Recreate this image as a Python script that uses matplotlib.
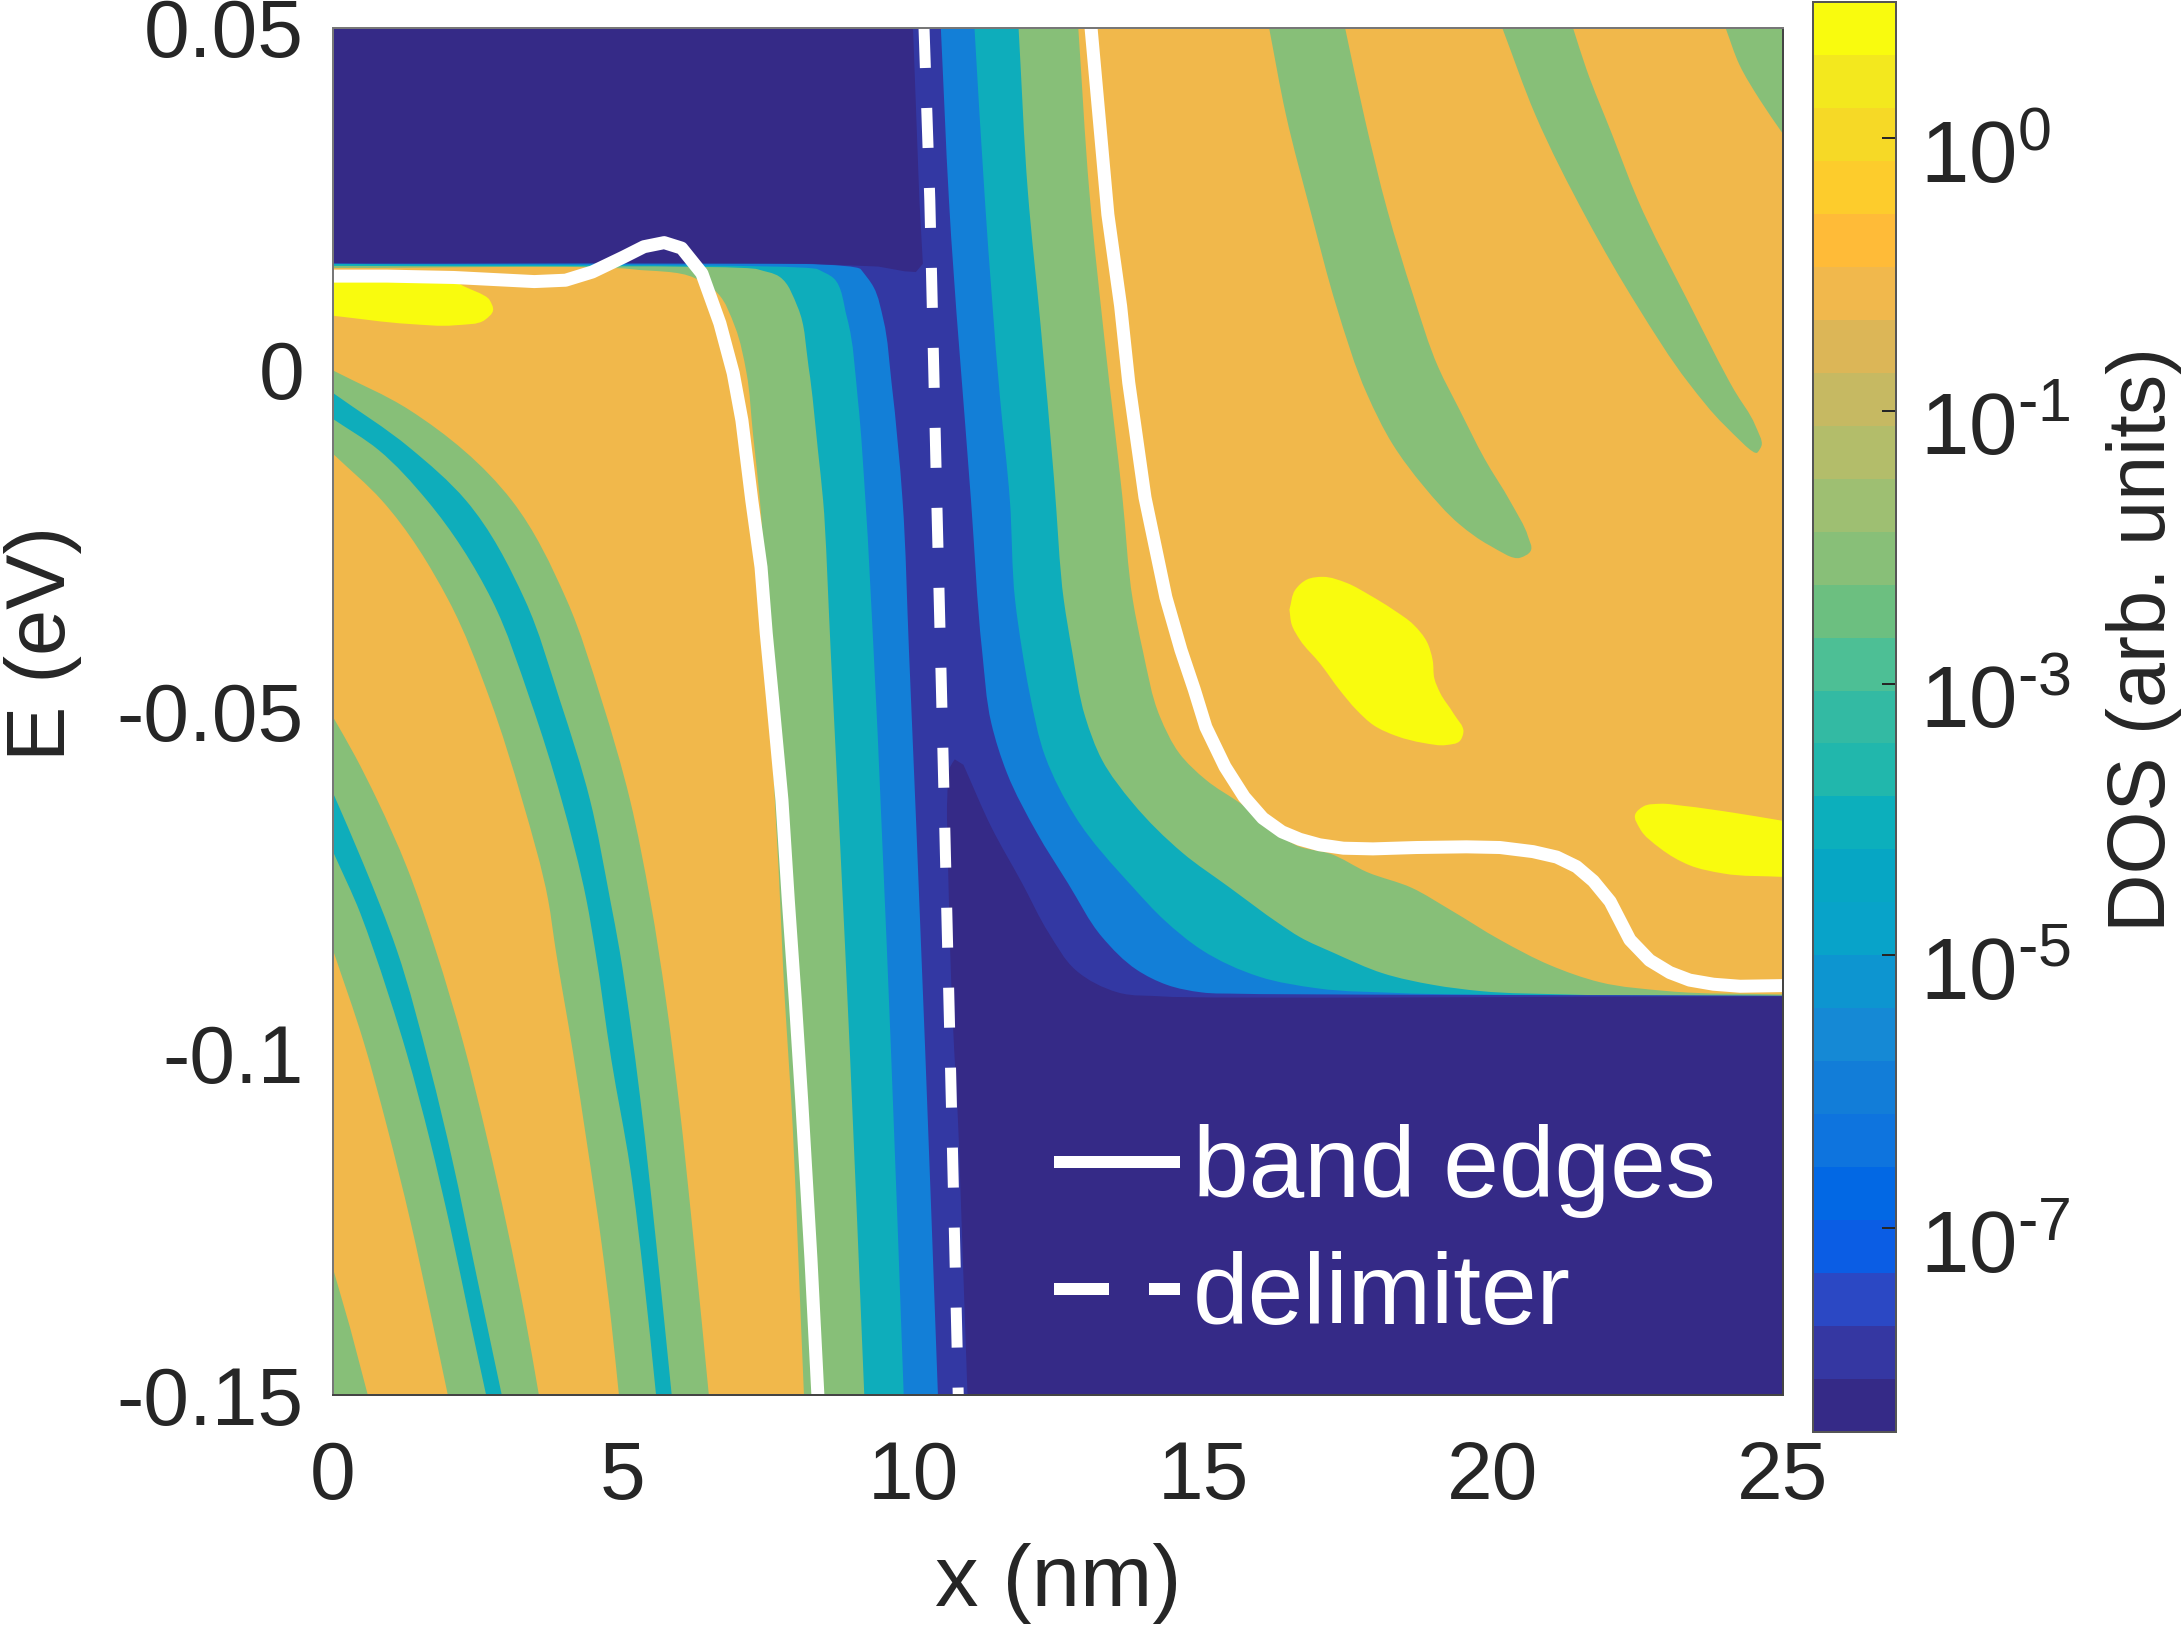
import numpy as np
import matplotlib
matplotlib.use("Agg")
import matplotlib.pyplot as plt
from matplotlib.colors import ListedColormap, BoundaryNorm
from matplotlib.cm import ScalarMappable
from matplotlib.lines import Line2D
from matplotlib.path import Path
from matplotlib.patches import PathPatch
from matplotlib.transforms import ScaledTranslation

plt.rcParams['font.family'] = ['Liberation Sans', 'DejaVu Sans']
plt.rcParams['mathtext.fontset'] = 'custom'
plt.rcParams['mathtext.rm'] = 'Liberation Sans'
plt.rcParams['mathtext.default'] = 'rm'

# ---------- colour levels (bottom to top of the colour bar) ----------
level_colors = ['#352A87', '#3537A2', '#2B48C4', '#0B5DE4', '#0268E4', '#0E74DE', '#127DD8',
                '#1589D5', '#0D95D0', '#08A3C9', '#06A6C4', '#0CAFBC', '#21B7AC', '#33BAA3',
                '#4DBF95', '#6CBF80', '#88BF78', '#9EBF72', '#B3BD6A', '#C6B962', '#DCB657',
                '#F1B84C', '#FFBB38', '#FDCC2C', '#F6D926', '#F3E81E', '#F9FB0E']
dark, indigo, blue, teal, green, orange, yellow = ('#352A87', '#3338A3', '#137FD7', '#0EADBB',
                                                    '#87BF78', '#F1B84B', '#F9FB0E')
cbar_tick_levels = [24.43, 19.28, 14.13, 9.0, 3.85]
cbar_tick_labels = [r'$10^{0}$', r'$10^{\text{-}1}$', r'$10^{\text{-}3}$', r'$10^{\text{-}5}$', r'$10^{\text{-}7}$']

x_ticks = [0, 5, 10, 15, 20, 25]
x_tick_labels = ['0', '5', '10', '15', '20', '25']
e_ticks = [-0.15, -0.1, -0.05, 0, 0.05]
e_tick_labels = ['-0.15', '-0.1', '-0.05', '0', '0.05']

# ---------- contour boundaries: (x nm, E eV) ----------
green_left = [(0, .0149), (5.16, .0147), (6.24, .0134), (6.63, .0112), (6.93, .0063), (7.13, -.0005),
              (7.24, -.0093), (7.36, -.0191), (7.5, -.04), (7.6, -.06), (7.68, -.0727), (7.79, -.0922),
              (7.9, -.1068), (8.12, -.15)]
teal_left = [(0, .0152), (7.32, .0147), (7.7, .0136), (8.01, .0092), (8.2, .0004), (8.36, -.0117),
             (8.45, -.0191), (8.58, -.041), (8.91, -.0995), (9.16, -.15)]
blue_left = [(0, .0155), (8.36, .0147), (8.63, .0134), (8.86, .0077), (9.05, -.0044), (9.18, -.0191),
             (9.32, -.041), (9.62, -.0995), (9.84, -.15)]
indigo_left = [(0, .01555), (9.1, .0147), (9.32, .0121), (9.49, .0073), (9.63, -.0019), (9.82, -.0191),
               (9.93, -.041), (10.21, -.0995), (10.43, -.15)]

indigo_right = [(10.48, .05), (10.62, .0248), (11.0, -.0191), (11.19, -.041), (11.35, -.0517), (11.62, -.059),
                (12.14, -.0678), (12.67, -.0751), (13.26, -.083), (13.86, -.0878), (14.38, -.09),
                (14.98, -.0911), (15.64, -.0913), (25, -.0916)]
blue_right = [(11.06, .05), (11.24, .0248), (11.5, -.0041), (11.67, -.0191), (11.76, -.0337), (11.88, -.041),
              (12.01, -.0473), (12.28, -.0566), (12.8, -.0654), (13.79, -.0757), (14.33, -.0805),
              (14.98, -.0849), (15.97, -.0888), (16.97, -.0905), (18.4, -.0912), (25, -.0916)]
teal_right = [(11.82, .05), (11.98, .0261), (12.2, .0065), (12.43, -.0158), (12.6, -.0337), (12.74, -.041),
              (12.97, -.0508), (13.26, -.0571), (13.79, -.0634), (14.65, -.0707), (15.45, -.0757),
              (16.29, -.0809), (16.67, -.083), (17.25, -.0853), (18.1, -.0883), (18.97, -.09),
              (19.78, -.0909), (21.27, -.0914), (25, -.0917)]
green_right = [(12.85, .05), (13.04, .0261), (13.31, .0038), (13.61, -.0186), (13.79, -.0337), (13.96, -.041),
               (14.26, -.0508), (14.59, -.0561), (15.05, -.06), (15.64, -.0634), (16.67, -.0698),
               (17.19, -.0708), (17.83, -.0735), (18.6, -.0758), (19.26, -.079), (20.12, -.0834),
               (20.98, -.0871), (21.84, -.0896), (23, -.0909), (25, -.0914)]

dark_upper = [(0, .05), (10.0, .05), (10.11, .0248), (10.17, .0155), (10.05, .0143), (9.86, .0144),
              (9.4, .0151), (8.24, .0155), (0, .0156)]
dark_lower_left = [(10.72, -.057), (10.64, -.0581), (10.59, -.0629), (10.6, -.07), (10.66, -.0897), (10.71, -.0995),
                   (10.76, -.1069), (10.94, -.15)]
dark_lower_right = [(25, -.0917), (14.33, -.0917), (13.53, -.0911), (12.8, -.0878), (12.34, -.0824),
                    (11.88, -.0751), (11.35, -.0669), (10.87, -.0578)]

# arcs in the lower-left region
arc_a_green_outer = [(0, -.0001), (1.32, -.0059), (3.08, -.0191), (4.03, -.0337), (4.63, -.0483), (5.12, -.0629),
                     (5.47, -.0776), (5.74, -.0922), (5.96, -.1068), (6.23, -.1284), (6.48, -.15)]
arc_a_green_inner = [(0, -.0123), (.84, -.0191), (1.99, -.0337), (2.71, -.0483), (3.26, -.0629),
                     (3.71, -.0776), (3.84, -.0849), (4.14, -.1), (4.37, -.1127), (4.63, -.1278), (4.8, -.1395),
                     (4.93, -.15)]
arc_a_teal_outer = [(0, -.0034), (1.32, -.0114), (2.29, -.0191), (3.31, -.0337), (3.91, -.0483), (4.43, -.0629),
                    (4.78, -.0776), (4.94, -.0849), (5.12, -.0951), (5.3, -.1068), (5.58, -.1284), (5.84, -.15)]
arc_a_teal_inner = [(0, -.0072), (.78, -.0117), (1.62, -.0191), (2.74, -.0337), (3.40, -.0483), (3.94, -.0629),
                    (4.37, -.0776), (4.52, -.0849), (4.8, -.101), (5.12, -.1166), (5.36, -.133), (5.57, -.15)]
arc_b_green_outer = [(0, -.0508), (.38, -.0565), (.76, -.0629), (1.27, -.0727), (1.77, -.0849), (2.25, -.0986),
                     (2.65, -.1122), (3.0, -.1254), (3.31, -.1385), (3.55, -.15)]
arc_b_green_inner = [(0, -.0849), (.52, -.0981), (.93, -.1107), (1.33, -.1244), (1.67, -.1376), (1.98, -.15)]
arc_b_teal_outer = [(0, -.0619), (.52, -.0722), (1.10, -.0849), (1.67, -.102), (2.07, -.1161), (2.42, -.1303),
                    (2.71, -.142), (2.91, -.15)]
arc_b_teal_inner = [(0, -.0705), (.47, -.0795), (.7, -.0849), (1.27, -.1), (1.67, -.1127), (2.02, -.1254),
                    (2.36, -.139), (2.64, -.15)]
arc_c_green = [(0, -.1315), (.29, -.14), (.6, -.15), (0, -.15)]

# green tongues in the upper-right region
tongue_1 = [(16.14, .05), (16.43, .0373), (16.87, .0227), (17.3, .0093), (17.83, -.0036), (18.27, -.0109),
            (18.8, -.017), (19.42, -.0226), (19.94, -.0257), (20.47, -.0275), (20.65, -.0265), (20.6, -.0243),
            (20.3, -.0193), (19.86, -.0131), (19.42, -.0058), (19.06, .0003), (18.62, .011), (18.18, .0233),
            (17.79, .0367), (17.45, .05)]
tongue_2 = [(20.16, .05), (20.73, .0373), (21.61, .0222), (22.49, .0093), (23.37, -.0019), (23.99, -.0081),
            (24.56, -.0121), (24.63, -.0111), (24.52, -.0081), (24.16, -.003), (23.37, .0099), (22.49, .025),
            (22.05, .0345), (21.61, .044), (21.38, .05)]
tongue_3 = [(24.01, .05), (24.25, .0446), (24.6, .0395), (25, .0345)]
tongue_3_corner = [(25, .05)]

# yellow islands
island_1 = [(0, .014), (2.0, .014), (2.16, .0127), (2.7, .0102), (2.76, .0087), (2.62, .0073), (2.09, .0065),
            (1.31, .0067), (0, .0079)]
island_2 = [(16.49, -.0351), (16.59, -.0322), (16.79, -.0307), (17.07, -.0303), (17.48, -.0312), (17.88, -.033),
            (18.28, -.0351), (18.63, -.0373), (18.86, -.0398), (18.96, -.0425), (18.99, -.0452), (19.09, -.0473),
            (19.32, -.0503), (19.49, -.053), (19.43, -.0543), (19.2, -.0549), (18.8, -.0546), (18.34, -.0536),
            (17.94, -.052), (17.65, -.0498), (17.36, -.0469), (17.02, -.043), (16.67, -.0395), (16.53, -.0373),
            (16.49, -.0351)]
island_3 = [(25, -.066), (24.14, -.0648), (23.28, -.0638), (22.88, -.0635), (22.59, -.0639), (22.45, -.0651),
            (22.53, -.0671), (22.88, -.07), (23.39, -.0725), (23.97, -.0737), (25, -.0742)]

# white lines
band_edge_left = [(0, .0137), (.93, .0137), (2.08, .0135), (3.47, .0129), (4.01, .0131), (4.47, .0143), (5.01, .0165),
                  (5.36, .018), (5.71, .0186), (6.01, .0178), (6.36, .0141), (6.67, .0068), (6.9, -.0005),
                  (7.05, -.0074), (7.22, -.0191), (7.38, -.0289), (7.47, -.0386), (7.58, -.0483), (7.74, -.0629),
                  (7.85, -.0776), (7.97, -.0922), (8.08, -.1068), (8.24, -.13), (8.36, -.15)]
band_edge_right = [(13.07, .05), (13.36, .0227), (13.58, .0093), (13.72, -.0019), (14.0, -.0187), (14.36, -.0333),
                   (14.62, -.041), (14.85, -.0468), (15.05, -.0523), (15.38, -.0581), (15.71, -.0625),
                   (16.03, -.0656), (16.36, -.0676), (16.67, -.0687), (17.01, -.0695), (17.42, -.07), (17.93, -.0701),
                   (18.68, -.0699), (19.54, -.0698), (20.12, -.0699), (20.69, -.0705), (21.1, -.0713),
                   (21.44, -.0727), (21.73, -.0748), (22.02, -.0778), (22.36, -.0834), (22.7, -.0864),
                   (23.05, -.0882), (23.39, -.0893), (23.8, -.0899), (24.26, -.0902), (25, -.0901)]
delimiter = [(10.19, .05), (10.29, .0248), (10.41, -.0191), (10.49, -.0466), (10.63, -.096), (10.78, -.15)]

# ---------- figure ----------
W, H, DPI = 2183, 1625, 100
PT = 72 / DPI
fig = plt.figure(figsize=(W / DPI, H / DPI), dpi=DPI)
ax = fig.add_axes([333 / W, (H - 1395) / H, 1450 / W, 1367 / H])
ax.set_facecolor(orange)
ax.set_xlim(0, 25)
ax.set_ylim(-0.15, 0.05)
SCALE = np.array([58.0, 6835.0])


def curve_segments(points):
    """Bezier control points that pass a smooth curve through the given points."""
    p = np.asarray(points, float) * SCALE
    n = len(p)
    if n < 3:
        return [tuple(q) for q in p[1:] / SCALE], [Path.LINETO] * (n - 1)
    d = np.hypot(*np.diff(p, axis=0).T)
    u = np.diff(p, axis=0) / d[:, None]
    t = np.zeros_like(p)
    t[0], t[-1] = u[0], u[-1]
    for i in range(1, n - 1):
        v = u[i - 1] * d[i] + u[i] * d[i - 1]
        t[i] = v / np.hypot(*v)
    verts = []
    for i in range(n - 1):
        other_a = d[i - 1] if i > 0 else d[i]
        other_b = d[i + 1] if i < n - 2 else d[i]
        a = min(d[i], 2 * other_a) / 3
        b = min(d[i], 2 * other_b) / 3
        verts += [p[i] + t[i] * a, p[i + 1] - t[i + 1] * b, p[i + 1]]
    return [tuple(v / SCALE) for v in verts], [Path.CURVE4] * (3 * (n - 1))


def fill(pieces, color, z=1):
    """Closed region made of smooth pieces joined by straight edges."""
    verts, codes = [], []
    for piece in pieces:
        verts.append(tuple(piece[0]))
        codes.append(Path.LINETO if codes else Path.MOVETO)
        v, c = curve_segments(piece)
        verts += v
        codes += c
    verts.append(verts[0])
    codes.append(Path.CLOSEPOLY)
    ax.add_patch(PathPatch(Path(verts, codes), facecolor=color, edgecolor='none', lw=0, zorder=z))


def band(outer, inner, color, z=1):
    fill([outer, inner[::-1]], color, z)


def wall(left, right, color, z):
    fill([left, [(25, -.15)], right[::-1], [(0, .05)]], color, z)


band(arc_a_green_outer, arc_a_green_inner, green)
band(arc_a_teal_outer, arc_a_teal_inner, teal, 1.1)
band(arc_b_green_outer, arc_b_green_inner, green)
band(arc_b_teal_outer, arc_b_teal_inner, teal, 1.1)
ax.fill(*np.array(arc_c_green).T, color=green, lw=0, zorder=1)
fill([tongue_1], green)
fill([tongue_2], green)
fill([tongue_3, tongue_3_corner], green)
fill([island_1], yellow)
fill([island_2], yellow)
fill([island_3], yellow)
wall(green_left, green_right, green, 2)
wall(teal_left, teal_right, teal, 3)
wall(blue_left, blue_right, blue, 4)
wall(indigo_left, indigo_right, indigo, 5)
ax.fill(*np.array(dark_upper).T, color=dark, lw=0, zorder=6)
fill([dark_lower_left, [(25, -.15)], dark_lower_right], dark, 6)

for curve in (band_edge_left, band_edge_right):
    xy = np.array(curve)
    ax.plot(xy[:, 0], xy[:, 1], color='white', lw=13 * PT, zorder=8, solid_joinstyle='round', solid_capstyle='butt')
xy = np.array(delimiter)
ax.plot(xy[:, 0], xy[:, 1], color='white', lw=11 * PT, zorder=8, dashes=(40 / 11, 40 / 11), dash_capstyle='butt')

TXT = '#262626'
ax.set_xticks(x_ticks, x_tick_labels)
ax.set_yticks(e_ticks, e_tick_labels)
ax.tick_params(axis='both', length=0, labelsize=82 * PT, labelcolor=TXT)
ax.tick_params(axis='x', pad=45 * PT)
ax.tick_params(axis='y', pad=29 * PT)
for name, sp in ax.spines.items():
    sp.set_linewidth(2 * PT)
    sp.set_color('#777777' if name in ('left', 'top') else '#444444')
    sp.set_zorder(9)

fig.text(1058 / W, 1 - 1584 / H, 'x (nm)', fontsize=87 * PT, color=TXT, ha='center', va='center')
fig.text(43 / W, 1 - 643 / H, 'E (eV)', fontsize=83 * PT, color=TXT, ha='center', va='center', rotation=90)
fig.text(2144 / W, 1 - 640 / H, 'DOS (arb. units)', fontsize=81 * PT, color=TXT, ha='center', va='center', rotation=90)

handles = [Line2D([], [], color='white', lw=12 * PT, solid_capstyle='butt'),
           Line2D([], [], color='white', lw=12 * PT, dashes=(55 / 12, 40 / 12), dash_capstyle='butt')]
leg = ax.legend(handles, ['band edges', 'delimiter'], frameon=False, prop={'size': 100 * PT},
                labelcolor='white', handlelength=1.26, handletextpad=0.13, labelspacing=0.33,
                borderpad=0, borderaxespad=0, loc='lower left',
                bbox_to_anchor=((1054 - 333) / 1450, (1395 - 1345) / 1367))
leg.set_zorder(10)

# ---------- colour bar ----------
cax = fig.add_axes([1813 / W, (H - 1432) / H, 83 / W, 1430 / H])
cmap = ListedColormap(level_colors)
norm = BoundaryNorm(np.arange(len(level_colors) + 1), len(level_colors))
cb = fig.colorbar(ScalarMappable(norm=norm, cmap=cmap), cax=cax, spacing='uniform', drawedges=False)
cb.set_ticks(cbar_tick_levels, labels=cbar_tick_labels)
cb.minorticks_off()
cax.tick_params(axis='y', direction='in', length=14 * PT, width=2 * PT, color=TXT,
                labelsize=87 * PT, labelcolor=TXT, pad=24 * PT, right=True, left=False)
shift = ScaledTranslation(0, -13 / DPI, fig.dpi_scale_trans)
for lab in cax.get_yticklabels():
    lab.set_transform(lab.get_transform() + shift)
cb.outline.set_linewidth(2 * PT)
cb.outline.set_edgecolor('#555555')

fig.savefig('out.png', dpi=DPI)
